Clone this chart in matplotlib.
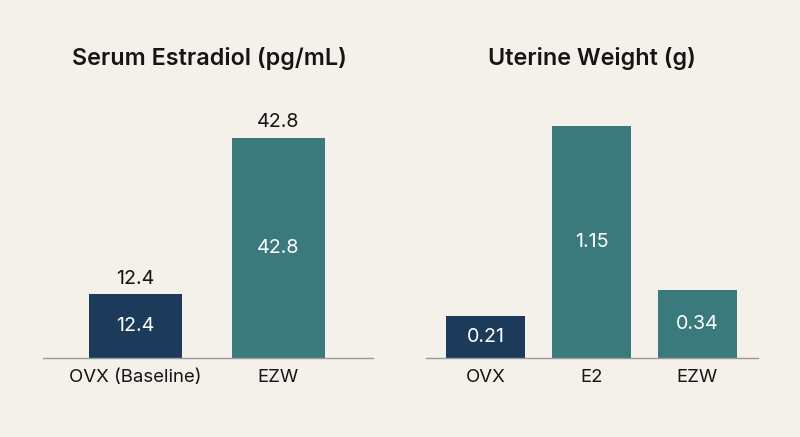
import matplotlib
matplotlib.use("Agg")
import matplotlib.pyplot as plt

# Data
left_title = "Serum Estradiol (pg/mL)"
left_categories = ["OVX (Baseline)", "EZW"]
left_values = [12.4, 42.8]
left_labels = ["12.4", "42.8"]

right_title = "Uterine Weight (g)"
right_categories = ["OVX", "E2", "EZW"]
right_values = [0.21, 1.15, 0.34]
right_labels = ["0.21", "1.15", "0.34"]

NAVY = "#1c3b5a"
TEAL = "#3a7a7c"
BG = "#f4f1eb"
TEXT = "#151515"

plt.rcParams['font.family'] = ['Inter', 'DejaVu Sans']

fig = plt.figure(figsize=(8, 4.37), dpi=100, facecolor=BG)

def style(ax):
    ax.set_facecolor(BG)
    for s in ["top", "right", "left"]:
        ax.spines[s].set_visible(False)
    ax.spines["bottom"].set_color("#9a9a9a")
    ax.spines["bottom"].set_linewidth(1.0)
    ax.set_yticks([])
    ax.tick_params(axis="x", length=0, pad=8, labelsize=13.4, labelcolor=TEXT)

# Left panel
axl = fig.add_axes([0.05375, 0.1808, 0.4125, 0.590])
style(axl)
xl = list(range(len(left_categories)))
axl.bar(xl, left_values, width=0.65, color=[NAVY, TEAL])
axl.set_xlim(-0.647, 1.661)
axl.set_ylim(0, 50.1)
axl.set_xticks(xl)
axl.set_xticklabels(left_categories)
for x, v, lab in zip(xl, left_values, left_labels):
    axl.text(x, v / 2, lab, ha="center", va="center", color="white", fontsize=14.2)
    axl.annotate(lab, (x, v), xytext=(0, 11), textcoords="offset points",
                 ha="center", va="center", color=TEXT, fontsize=14.2)
fig.text(0.262, 0.865, left_title, ha="center", va="center",
         fontsize=16.8, fontweight="semibold", color=TEXT)

# Right panel
axr = fig.add_axes([0.5325, 0.1808, 0.415, 0.590])
style(axr)
xr = list(range(len(right_categories)))
axr.bar(xr, right_values, width=0.745, color=[NAVY, TEAL, TEAL])
axr.set_xlim(-0.561, 2.571)
axr.set_ylim(0, 1.28)
axr.set_xticks(xr)
axr.set_xticklabels(right_categories)
for x, v, lab in zip(xr, right_values, right_labels):
    axr.text(x, v / 2, lab, ha="center", va="center", color="white", fontsize=14.2)
fig.text(0.74, 0.865, right_title, ha="center", va="center",
         fontsize=16.8, fontweight="semibold", color=TEXT)

fig.savefig("out.png", dpi=100, facecolor=BG)
